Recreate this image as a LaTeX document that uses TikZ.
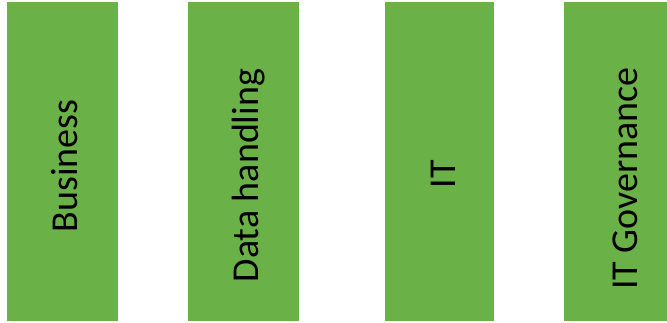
\documentclass[tikz,border=0pt]{standalone}
\usepackage{fontspec}
\setmainfont{Carlito}
\usetikzlibrary{positioning}
\definecolor{bargreen}{RGB}{106,177,72}

\begin{document}
\begin{tikzpicture}[x=1pt,y=-1pt,
		bar/.style={fill=bargreen, inner sep=0pt, minimum height=319pt},
		lbl/.style={rotate=90, anchor=base, inner sep=0pt, font=\fontsize{38}{40}\selectfont}]
		\useasboundingbox (0,0) rectangle (667,322);
		\node[bar, minimum width=111pt] (business) at (62.5,161.5) {};
		\node[bar, minimum width=111pt] (data) at (243.5,161.5) {};
		\node[bar, minimum width=109pt] (it) at (439.5,161.5) {};
		\node[bar, minimum width=103pt] (gov) at (615.5,161.5) {};
		\node[lbl] (business text) at (77,166) {Business};
		\node[lbl] (data text) at (258,175.5) {Data handling};
		\node[lbl] (it text) at (455,174) {IT};
		\node[lbl] (gov text) at (637,178.5) {IT Governance};
	\end{tikzpicture}
\end{document}
